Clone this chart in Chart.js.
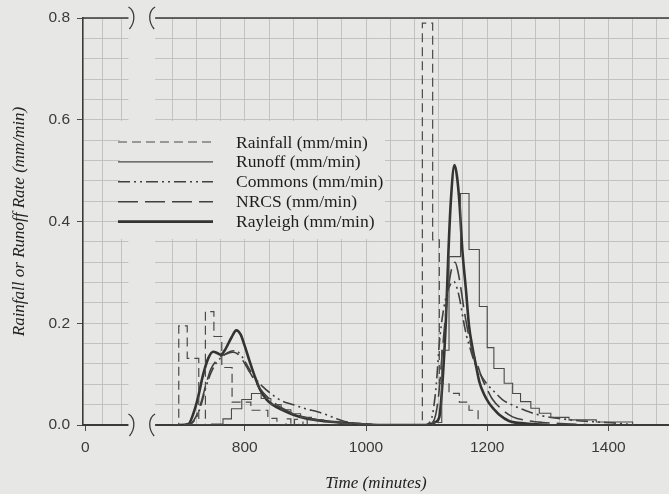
<!DOCTYPE html>
<html>
<head>
<meta charset="utf-8">
<script src="https://cdn.jsdelivr.net/npm/chart.js@4.4.1/dist/chart.umd.min.js"></script>
<style>
html, body { margin: 0; padding: 0; background: #e7e7e5; }
canvas { display: block; }
</style>
</head>
<body>
<canvas id="chart" width="669" height="494"></canvas>
<script>
// series (time in minutes, rate in mm/min)
const rainTime = [680, 691, 705, 724, 735, 749, 762, 779, 810, 838, 853, 868, 876, 882, 889, 896, 903,
  1080, 1093, 1110, 1121, 1137, 1154, 1170, 1185];
const rainRate = [0, 0.195, 0.131, 0, 0.223, 0.174, 0.113, 0.045, 0.029, 0.013, 0, 0.012, 0, 0.011, 0, 0.01, 0,
  0, 0.79, 0.364, 0.082, 0.062, 0.045, 0.029, 0];

const runoffTime = [700, 745, 764, 778, 795, 811, 827, 843, 860, 876, 892, 910, 930, 960, 1000, 1040,
  1110, 1125, 1137, 1156, 1170, 1187, 1200, 1211, 1228, 1242, 1255, 1272, 1286, 1305, 1335, 1380, 1440];
const runoffRate = [0, 0.002, 0.012, 0.032, 0.05, 0.062, 0.052, 0.04, 0.03, 0.022, 0.015, 0.01, 0.006, 0.003, 0.001, 0,
  0.005, 0.147, 0.331, 0.455, 0.345, 0.233, 0.152, 0.111, 0.082, 0.062, 0.046, 0.033, 0.023, 0.015, 0.01, 0.006, 0];

const commonsTime = [700, 712, 720, 728, 736, 745, 755, 765, 775, 785, 795, 805, 815, 830, 845, 860, 880, 900, 920, 935,
  950, 965, 985, 1010, 1095, 1105, 1110, 1116, 1121, 1127, 1134, 1140, 1145, 1150, 1155, 1160, 1166, 1172, 1180, 1190,
  1200, 1212, 1225, 1240, 1264, 1291, 1318, 1345, 1380, 1420, 1440];
const commonsRate = [0, 0.003, 0.015, 0.04, 0.075, 0.105, 0.125, 0.137, 0.144, 0.146, 0.135, 0.115, 0.095, 0.075, 0.06, 0.048, 0.04, 0.032, 0.026, 0.02,
  0.013, 0.007, 0.003, 0, 0, 0.005, 0.022, 0.08, 0.16, 0.22, 0.26, 0.278, 0.282, 0.27, 0.245, 0.21, 0.175, 0.15, 0.12, 0.097,
  0.08, 0.065, 0.05, 0.04, 0.028, 0.018, 0.013, 0.009, 0.006, 0.003, 0];

const nrcsTime = [700, 712, 720, 728, 736, 744, 752, 760, 770, 780, 788, 796, 805, 815, 826, 840, 855, 870, 890, 910,
  940, 970, 1000, 1030, 1100, 1110, 1115, 1120, 1125, 1130, 1136, 1142, 1147, 1152, 1157, 1162, 1168, 1175, 1184, 1192,
  1200, 1209, 1225, 1242, 1264, 1291, 1320, 1360, 1400];
const nrcsRate = [0, 0.004, 0.018, 0.045, 0.08, 0.11, 0.125, 0.135, 0.14, 0.143, 0.14, 0.128, 0.11, 0.09, 0.07, 0.052, 0.038, 0.028, 0.018, 0.012,
  0.007, 0.004, 0.002, 0, 0, 0.005, 0.02, 0.06, 0.13, 0.2, 0.27, 0.31, 0.32, 0.3, 0.265, 0.225, 0.185, 0.148, 0.118, 0.09,
  0.07, 0.05, 0.03, 0.016, 0.009, 0.005, 0.003, 0.001, 0];

const rayleighTime = [690, 707, 715, 723, 731, 740, 748, 755, 760, 767, 778, 786, 793, 800, 808, 816, 825, 836, 847, 863,
  880, 901, 930, 956, 990, 1020, 1100, 1115, 1121, 1126, 1132, 1136, 1140, 1146, 1150, 1154, 1159, 1165, 1170, 1176,
  1181, 1187, 1195, 1203, 1212, 1220, 1236, 1264, 1300];
const rayleighRate = [0, 0.002, 0.022, 0.055, 0.098, 0.132, 0.144, 0.141, 0.138, 0.147, 0.172, 0.186, 0.178, 0.155, 0.125, 0.097, 0.07, 0.05, 0.039, 0.029,
  0.02, 0.013, 0.008, 0.005, 0.002, 0, 0, 0.006, 0.016, 0.08, 0.21, 0.34, 0.44, 0.511, 0.49, 0.44, 0.344, 0.265, 0.195, 0.15,
  0.12, 0.085, 0.06, 0.043, 0.03, 0.02, 0.008, 0.003, 0];

const xLabelTimes = [0, 800, 1000, 1200, 1400];
const yLabelValues = [0, 0.2, 0.4, 0.6, 0.8];

// look
const BG = '#e7e7e5';
const INK = '#3a3a3a';
const GRID = '#bdbdbb';
const X_MIN = 533, X_MAX = 1500;
const ZERO_AT = 537;          // axis position used for t = 0 (left of the break)
const GAP = [608, 652];       // broken part of the time axis
const LEGEND_BOX = { x: 120, y: 121, w: 265, h: 118 };

const pos = t => t < GAP[0] ? t + ZERO_AT : t;
const pairs = (ts, vs) => ts.map((t, i) => ({ x: pos(t), y: vs[i] }));

// grid: 5 subdivisions per labelled step
const xGrid = [pos(0), 566, 597];
for (let v = 680; v < X_MAX; v += 40) xGrid.push(v);
const xMajor = xLabelTimes.map(pos);
const isMajorY = v => yLabelValues.some(m => Math.abs(m - v) < 1e-6);

function breakMark(ctx, x, yc, dir) {
  ctx.beginPath();
  ctx.moveTo(x - 2 * dir, yc - 11);
  ctx.bezierCurveTo(x + 5 * dir, yc - 7, x + 5 * dir, yc + 4, x - 1 * dir, yc + 11);
  ctx.stroke();
}

const framePlugin = {
  id: 'frame',
  beforeDatasetsDraw(chart) {
    const { ctx, chartArea: a, scales: { x } } = chart;
    const g0 = x.getPixelForValue(GAP[0]);
    const g1 = x.getPixelForValue(GAP[1]);
    ctx.save();
    // blank out the break and the legend area
    ctx.fillStyle = BG;
    ctx.fillRect(g0, a.top - 4, g1 - g0, a.bottom - a.top + 8);
    ctx.fillRect(LEGEND_BOX.x, LEGEND_BOX.y, LEGEND_BOX.w, LEGEND_BOX.h);

    // top frame line, broken like the axis
    ctx.strokeStyle = INK;
    ctx.lineWidth = 1.6;
    ctx.beginPath();
    ctx.moveTo(a.left, a.top); ctx.lineTo(g0, a.top);
    ctx.moveTo(g1, a.top); ctx.lineTo(a.right, a.top);
    ctx.stroke();

    ctx.lineWidth = 1.3;
    for (const yc of [a.top, a.bottom]) {
      breakMark(ctx, g0 + 2, yc, 1);
      breakMark(ctx, g1 - 2, yc, -1);
    }

    // legend
    ctx.font = '17.5px "Liberation Serif"';
    ctx.textBaseline = 'middle';
    chart.data.datasets.forEach((ds, i) => {
      const yy = 142 + i * 19.9;
      ctx.strokeStyle = ds.borderColor;
      ctx.lineWidth = ds.borderWidth;
      ctx.setLineDash(ds.borderDash || []);
      ctx.beginPath();
      ctx.moveTo(118, yy); ctx.lineTo(213, yy);
      ctx.stroke();
      ctx.setLineDash([]);
      ctx.fillStyle = '#1e1e1e';
      ctx.fillText(ds.label, 236, yy + 1);
    });
    ctx.restore();
  }
};

new Chart(document.getElementById('chart'), {
  type: 'line',
  data: {
    datasets: [
      { label: 'Rainfall (mm/min)', data: pairs(rainTime, rainRate), stepped: true,
        borderColor: '#4a4a4a', borderWidth: 1.2, borderDash: [9, 5] },
      { label: 'Runoff (mm/min)', data: pairs(runoffTime, runoffRate), stepped: true,
        borderColor: '#4a4a4a', borderWidth: 1.1 },
      { label: 'Commons (mm/min)', data: pairs(commonsTime, commonsRate), cubicInterpolationMode: 'monotone',
        borderColor: '#404040', borderWidth: 1.6, borderDash: [12, 4, 2, 4, 2, 4] },
      { label: 'NRCS (mm/min)', data: pairs(nrcsTime, nrcsRate), cubicInterpolationMode: 'monotone',
        borderColor: '#404040', borderWidth: 1.6, borderDash: [20, 7] },
      { label: 'Rayleigh (mm/min)', data: pairs(rayleighTime, rayleighRate), cubicInterpolationMode: 'monotone',
        borderColor: '#333333', borderWidth: 2.6 }
    ]
  },
  options: {
    responsive: false,
    animation: false,
    devicePixelRatio: 1,
    layout: { padding: { top: 18, right: 0, left: 0, bottom: 0 } },
    elements: { point: { radius: 0 }, line: { fill: false } },
    plugins: { legend: { display: false }, tooltip: { enabled: false } },
    scales: {
      x: {
        type: 'linear', min: X_MIN, max: X_MAX,
        afterBuildTicks: s => { s.ticks = xGrid.map(v => ({ value: v })); },
        afterFit: s => { s.height = 69; },
        ticks: {
          autoSkip: false, maxRotation: 0, padding: 7, color: INK,
          font: { family: 'Liberation Sans', size: 15.5 },
          callback: v => {
            const k = xMajor.indexOf(v);
            return k < 0 ? '' : String(xLabelTimes[k]);
          }
        },
        grid: {
          color: c => (c.tick && c.tick.value === pos(0)) ? 'rgba(0,0,0,0)' : GRID,
          lineWidth: 0.9,
          tickLength: 6,
          tickColor: c => (c.tick && xMajor.includes(c.tick.value)) ? INK : 'rgba(0,0,0,0)'
        },
        border: { color: INK, width: 2 },
        title: { display: true, text: 'Time (minutes)', color: '#222',
          font: { family: 'Liberation Serif', size: 17, style: 'italic' }, padding: { top: 4, bottom: 0 } }
      },
      y: {
        min: 0, max: 0.8,
        afterFit: s => { s.width = 83; },
        ticks: {
          stepSize: 0.04, autoSkip: false, padding: 7, color: INK,
          font: { family: 'Liberation Sans', size: 15.5 },
          callback: v => isMajorY(v) ? v.toFixed(1) : ''
        },
        grid: {
          color: GRID, lineWidth: 0.9, tickLength: 6,
          tickColor: c => (c.tick && isMajorY(c.tick.value)) ? INK : 'rgba(0,0,0,0)'
        },
        border: { color: INK, width: 1.6 },
        title: { display: true, text: 'Rainfall or Runoff Rate (mm/min)', color: '#222',
          font: { family: 'Liberation Serif', size: 17, style: 'italic' }, padding: { top: 9, bottom: 0 } }
      }
    }
  },
  plugins: [framePlugin]
});
</script>
</body>
</html>
